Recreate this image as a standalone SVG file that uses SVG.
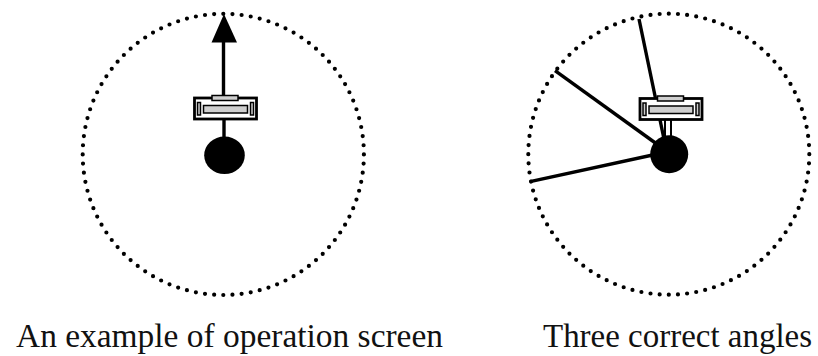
<svg xmlns="http://www.w3.org/2000/svg" width="818" height="356" viewBox="0 0 818 356">
<style>
.ring{fill:none;stroke:#000;stroke-width:4.2;stroke-linecap:round;stroke-dasharray:0 1}
.ln{stroke:#000;stroke-width:3.4;fill:none}
.outer{fill:#fff;stroke:#000;stroke-width:2.8}
.gray{fill:#cfcfcf;stroke:#000;stroke-width:1.5}
.dot{fill:#000}
.lbl{font-family:'Liberation Serif','DejaVu Serif',serif;font-size:33px;fill:#111}
</style>
<defs>
<g id="sensor">
<rect class="outer" x="-30" y="-56" width="62" height="21"/>
<rect class="gray" x="-27" y="-51.5" width="3" height="12.5"/>
<rect class="gray" x="26" y="-51.5" width="3" height="12.5"/>
<rect class="gray" x="-21" y="-48.5" width="44" height="7.5"/>
<rect class="gray" x="-12.5" y="-58.5" width="26" height="5"/>
</g>
</defs>
<g id="left-figure">
<circle class="ring" cx="223.3" cy="154.4" r="140.6" pathLength="96"/>
<line class="ln" x1="223.5" y1="40" x2="223.5" y2="97"/>
<polygon points="224,14 211.5,42.5 237,42.5" fill="#000"/>
<line class="ln" x1="224" y1="119" x2="224" y2="140"/>
<use href="#sensor" transform="translate(224.5,154)"/>
<ellipse class="dot" cx="224.5" cy="155.3" rx="20.3" ry="18.8"/>
</g>
<g id="right-figure">
<circle class="ring" cx="668.8" cy="154.2" r="140.5" pathLength="96"/>
<g id="connectors">
<line class="ln" x1="639" y1="19" x2="666.5" y2="151"/>
<line class="ln" x1="555" y1="70.7" x2="666.5" y2="151"/>
<line class="ln" x1="530" y1="181.7" x2="666.5" y2="152"/>
</g>
<rect x="665" y="119" width="6" height="18" fill="#fff" stroke="#000" stroke-width="2"/>
<use href="#sensor" transform="translate(670,154.5)"/>
<circle class="dot" cx="669.2" cy="154.2" r="19"/>
</g>
<text class="lbl" x="16" y="346.5" textLength="427" lengthAdjust="spacingAndGlyphs">An example of operation screen</text>
<text class="lbl" x="543" y="346.5" textLength="269" lengthAdjust="spacingAndGlyphs">Three correct angles</text>
</svg>
